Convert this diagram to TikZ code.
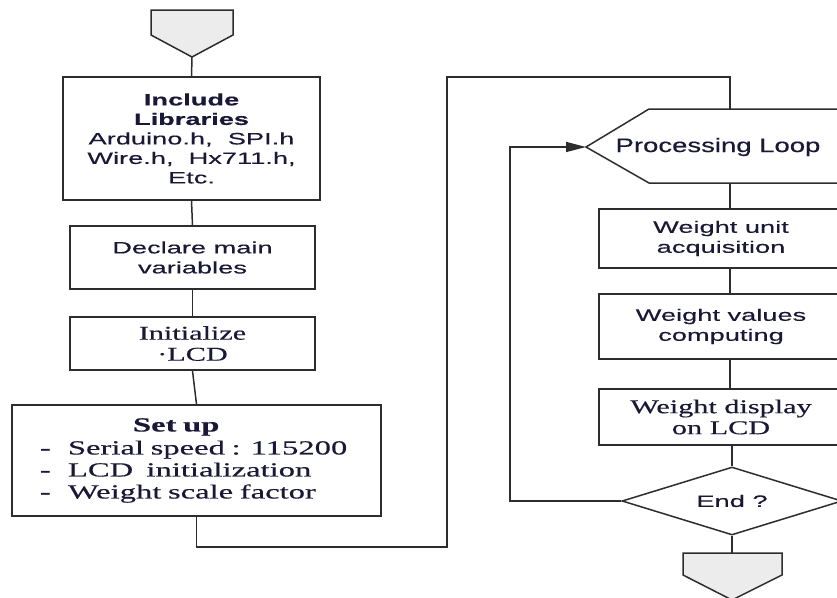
\documentclass[tikz,border=0pt]{standalone}
\usepackage{fontspec}
\setmainfont{Liberation Serif}
\newfontfamily\sfx[FakeStretch=1.65,FakeBold=0.35]{Liberation Sans}
\newfontfamily\sfy[FakeStretch=1.41,FakeBold=0.35]{Liberation Sans}
\newfontfamily\rmx[FakeStretch=1.55,FakeBold=0.4]{Liberation Serif}
\newfontfamily\rmz[FakeStretch=1.63,FakeBold=0.4]{Liberation Serif}
\usetikzlibrary{shapes.geometric,arrows.meta}
\definecolor{linec}{RGB}{45,45,45}
\definecolor{txtc}{RGB}{25,25,55}
\definecolor{capfill}{RGB}{236,236,236}
\tikzset{
  box/.style={draw=linec, line width=1.5pt, rectangle, inner sep=0pt, text=txtc, align=center},
  sftext/.style={font=\sfx\fontsize{16.5}{20}\selectfont},
  inctext/.style={font=\sfx\fontsize{16.5}{19.5}\selectfont},
  looptext/.style={font=\sfy\fontsize{19.5}{22}\selectfont},
  rmtext/.style={font=\rmx\fontsize{19.5}{21}\selectfont},
  setuptext/.style={font=\rmz\fontsize{20}{22}\selectfont},
  conn/.style={draw=linec, line width=1.5pt},
  capshape/.style={draw=linec, line width=1.5pt, fill=capfill, line join=miter},
  arrowtip/.style={-{Triangle[length=20pt,width=10pt]}}
}
\begin{document}
\begin{tikzpicture}[x=1pt,y=-1pt]
\clip (0,0) rectangle (837,597);
\fill[white] (0,0) rectangle (837,597);

% start cap
\draw[capshape] (151,10) -- (233,10) -- (233,35) -- (192,57) -- (151,35) -- cycle;
\coordinate (startTip) at (192,57);

% left column
\node[box, inctext, minimum width=257pt, minimum height=123pt] (inc) at (191.5,138.5)
  {\textbf{Include}\\\textbf{Libraries}\\Arduino.h,\ \ SPI.h\\Wire.h,\ \ Hx711.h,\\Etc.};
\node[box, sftext, minimum width=245pt, minimum height=63pt] (decl) at (192.5,257.5)
  {Declare main\\variables};
\node[box, rmtext, minimum width=245pt, minimum height=53pt] (init) at (192.5,343.5)
  {Initialize\\·LCD};
\node[box, setuptext, minimum width=369pt, minimum height=111pt, text width=313pt, align=left] (setup) at (196.5,460.5)
  {\hspace*{93pt}\textbf{Set up}\\[1pt]
   \makebox[28pt][l]{-}Serial speed : 115200\\
   \makebox[28pt][l]{-}LCD\ \ initialization\\
   \makebox[28pt][l]{-}Weight scale factor};

\draw[conn] (startTip) -- (inc.north);
\draw[conn] (inc.south) -- (decl.north);
\draw[conn] (decl.south) -- (init.north);
\draw[conn] (init.south) -- (setup.north);

% link to right column
\coordinate (c1) at (447,547);
\coordinate (c2) at (447,77);
\coordinate (c3) at (730,77);
\coordinate (loopTip) at (586,147);
\coordinate (loopTop) at (730,109);
\coordinate (loopBot) at (730,183);

% processing loop shape
\draw[conn, fill=white, line join=miter] (850,109) -- (649,109) -- (loopTip) -- (649,183) -- (850,183);
\node[looptext, text=txtc, inner sep=0pt] (loopTxt) at (718,147) {Processing Loop};

\draw[conn] (setup.south) |- (c1) -- (c2) -- (c3) -- (loopTop);

% right column
\node[box, sftext, minimum width=244pt, minimum height=59pt] (wua) at (721,238.5)
  {Weight unit\\acquisition};
\node[box, sftext, minimum width=244pt, minimum height=65pt] (wvc) at (721,326.5)
  {Weight values\\computing};
\node[box, rmtext, minimum width=244pt, minimum height=56pt] (wdl) at (721,417)
  {Weight display\\on LCD};
\node[diamond, aspect=3.2, draw=linec, line width=1.5pt, fill=white, sftext, text=txtc,
      minimum width=220pt, minimum height=68pt, inner sep=0pt] (endq) at (732,501) {End ?};

\draw[conn] (loopBot) -- (loopBot |- wua.north);
\draw[conn] (loopBot |- wua.south) -- (loopBot |- wvc.north);
\draw[conn] (loopBot |- wvc.south) -- (loopBot |- wdl.north);
\draw[conn] (endq.north |- wdl.south) -- (endq.north);

% loop back
\coordinate (lb1) at (510,501);
\coordinate (lb2) at (510,147);
\draw[conn, arrowtip] (endq.west) -- (lb1) -- (lb2) -- (loopTip);

% end cap
\coordinate (endCapTop) at (732,553);
\draw[conn] (endq.south) -- (endCapTop);
\draw[capshape] (683,553) -- (782,553) -- (782,575) -- (732,600) -- (683,575) -- cycle;
\end{tikzpicture}
\end{document}
